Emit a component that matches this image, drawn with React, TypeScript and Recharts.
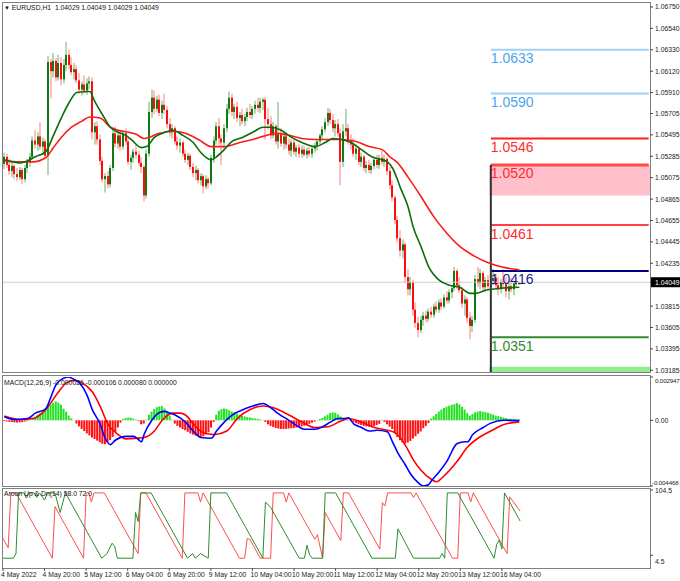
import React from "react";
import {
  ComposedChart,
  Bar,
  Line,
  XAxis,
  YAxis,
  Cell,
  ReferenceLine,
  ReferenceArea,
  ReferenceDot,
} from "recharts";

// EURUSD H1, prices in pips above 1.0000 (528 -> 1.0528)
const opens = [
  521, 528, 520, 514, 519, 511, 508, 515, 506, 517,
  523, 528, 544, 540, 548, 538, 543, 529, 621, 612,
  622, 606, 620, 604, 618, 628, 618, 611, 614, 603,
  594, 599, 593, 600, 602, 552, 558, 545, 524, 506,
  509, 501, 517, 551, 541, 549, 538, 551, 543, 523,
  527, 533, 530, 522, 518, 490, 531, 572, 586, 575,
  584, 571, 579, 574, 560, 552, 556, 543, 539, 542,
  531, 525, 529, 518, 512, 515, 505, 509, 499, 506,
  502, 527, 544, 558, 546, 542, 556, 575, 586, 572,
  577, 566, 569, 563, 567, 572, 569, 575, 579, 576,
  582, 584, 565, 560, 549, 558, 543, 550, 541, 548,
  540, 534, 542, 533, 537, 531, 535, 530, 534, 531,
  536, 539, 543, 549, 555, 562, 571, 564, 556, 560,
  551, 523, 553, 556, 544, 540, 531, 536, 523, 528,
  517, 520, 515, 519, 525, 520, 527, 523, 526, 514,
  500, 488, 466, 448, 436, 442, 410, 398, 405, 378,
  365, 358, 368, 372, 369, 376, 373, 381, 378, 385,
  381, 390, 387, 395, 399, 416, 402, 397, 384, 388,
  370, 362, 368, 408, 404, 414, 400, 407, 401, 406,
  409, 402, 398, 405, 403, 396, 401, 398, 404, 402.9,
];
const highs = [
  532, 531, 526, 523, 521, 517, 518, 517, 520, 526,
  532, 548, 554, 552, 562, 547, 545, 627, 624, 630,
  625, 628, 626, 624, 641, 633, 626, 620, 618, 610,
  602, 608, 605, 607, 606, 562, 563, 550, 528, 512,
  514, 520, 556, 558, 553, 552, 554, 556, 546, 530,
  536, 540, 534, 528, 520, 535, 582, 594, 593, 588,
  589, 583, 590, 578, 566, 560, 558, 548, 546, 544,
  535, 532, 531, 522, 519, 517, 512, 511, 510, 508,
  530, 548, 562, 566, 550, 560, 580, 592, 590, 580,
  582, 572, 575, 570, 576, 580, 578, 583, 586, 586,
  586, 586, 576, 568, 562, 560, 582, 556, 552, 552,
  546, 545, 546, 540, 541, 539, 539, 537, 538, 538,
  542, 545, 551, 558, 566, 576, 575, 570, 564, 565,
  556, 560, 575, 560, 550, 546, 540, 538, 532, 530,
  524, 525, 522, 528, 530, 530, 534, 530, 528, 518,
  505, 490, 470, 456, 447, 444, 418, 410, 407, 385,
  371, 372, 376, 377, 379, 381, 384, 386, 388, 389,
  393, 396, 398, 402, 420, 418, 410, 400, 392, 390,
  376, 372, 412, 420, 418, 416, 410, 412, 411, 418,
  413, 410, 408, 418, 410, 406, 409, 406, 410, 404.9,
];
const lows = [
  516, 517, 510, 508, 506, 504, 505, 501, 503, 512,
  518, 525, 536, 534, 535, 530, 526, 510, 585, 606,
  602, 603, 598, 600, 612, 614, 608, 604, 600, 590,
  588, 590, 589, 594, 545, 540, 540, 520, 503, 493,
  497, 498, 514, 537, 536, 534, 535, 540, 520, 515,
  522, 526, 519, 512, 484, 487, 528, 566, 570, 572,
  568, 565, 570, 556, 548, 546, 540, 535, 532, 528,
  522, 520, 515, 508, 505, 502, 500, 492, 496, 497,
  500, 522, 540, 540, 520, 536, 552, 570, 568, 565,
  562, 558, 560, 558, 563, 566, 565, 570, 572, 571,
  574, 545, 555, 545, 546, 540, 536, 538, 535, 536,
  530, 528, 530, 528, 527, 527, 528, 526, 528, 527,
  532, 534, 540, 545, 552, 558, 560, 552, 548, 548,
  500, 518, 548, 540, 535, 528, 525, 520, 518, 514,
  512, 512, 511, 516, 517, 516, 520, 518, 510, 496,
  484, 462, 444, 430, 428, 404, 392, 392, 372, 360,
  351, 355, 362, 365, 366, 370, 370, 375, 375, 378,
  379, 384, 384, 389, 396, 398, 394, 380, 372, 365,
  349, 356, 365, 400, 398, 396, 395, 397, 396, 402,
  398, 392, 394, 399, 390, 388, 395, 392, 399, 402.9,
];
const closes = [
  528, 520, 514, 519, 511, 508, 515, 506, 517, 523,
  528, 544, 540, 548, 538, 543, 529, 621, 612, 622,
  606, 620, 604, 618, 628, 618, 611, 614, 603, 594,
  599, 593, 600, 602, 552, 558, 545, 524, 506, 509,
  501, 517, 551, 541, 549, 538, 551, 543, 523, 527,
  533, 530, 522, 518, 490, 531, 572, 586, 575, 584,
  571, 579, 574, 560, 552, 556, 543, 539, 542, 531,
  525, 529, 518, 512, 515, 505, 509, 499, 506, 502,
  527, 544, 558, 546, 542, 556, 575, 586, 572, 577,
  566, 569, 563, 567, 572, 569, 575, 579, 576, 582,
  584, 565, 560, 549, 558, 543, 550, 541, 548, 540,
  534, 542, 533, 537, 531, 535, 530, 534, 531, 536,
  539, 543, 549, 555, 562, 571, 564, 556, 560, 551,
  523, 553, 556, 544, 540, 531, 536, 523, 528, 517,
  520, 515, 519, 525, 520, 527, 523, 526, 514, 500,
  488, 466, 448, 436, 442, 410, 398, 405, 378, 365,
  358, 368, 372, 369, 376, 373, 381, 378, 385, 381,
  390, 387, 395, 399, 416, 402, 397, 384, 388, 370,
  362, 368, 408, 404, 414, 400, 407, 401, 406, 409,
  402, 398, 405, 403, 396, 401, 398, 404, 402.9, 404.9,
];

// moving averages as [bar, pips]
const maFastPts = [
  [0, 525], [6, 522], [12, 528], [16, 533], [19, 549], [22, 566], [25, 581], [28, 591],
  [33, 592], [35, 582], [38, 569], [41, 557], [44, 552], [47, 549], [49, 545], [53, 537],
  [55, 538], [58, 547], [62, 552], [65, 554], [69, 549], [73, 542], [76, 532], [80, 525],
  [82, 528], [85, 535], [88, 543], [92, 547], [96, 552], [100, 557], [103, 557], [107, 554],
  [111, 547], [115, 542], [120, 538], [124, 542], [127, 546], [130, 545], [134, 542], [138, 535],
  [142, 528], [146, 525], [148, 523], [150, 517], [152, 505], [153, 498], [156, 479], [158, 459],
  [161, 440], [164, 420], [168, 407], [172, 402], [176, 400], [180, 394], [182, 394], [186, 397],
  [192, 399], [199, 400],
];
const maSlowPts = [
  [0, 524], [6, 523], [11, 523], [16, 527], [19, 537], [22, 547], [26, 557], [30, 563],
  [33, 567], [37, 566], [41, 557], [44, 554], [48, 552], [51, 550], [54, 546], [60, 551],
  [65, 553], [70, 551], [75, 545], [80, 538], [85, 538], [91, 542], [96, 545], [100, 548],
  [105, 551], [110, 549], [115, 546], [120, 545], [125, 545], [130, 545], [136, 543], [141, 538],
  [146, 535], [149, 528], [152, 522], [156, 508], [161, 489], [166, 469], [171, 453], [176, 440],
  [182, 430], [187, 424], [192, 420], [199, 417],
];

// MACD(12,26,9), units of 0.00001
const macdPts = [
  [0, 24], [4, 5], [9, 12], [12, 49], [16, 78], [18, 158], [20, 243], [23, 287], [25, 294.7],
  [26, 287], [29, 255], [32, 170], [34, 73], [37, -24], [39, -122], [41, -165], [43, -134],
  [47, -109], [50, -109], [52, -134], [53, -146], [54, -97], [57, 0], [60, 53], [62, 61],
  [64, 49], [66, 36], [70, -12], [73, -73], [76, -117], [80, -122], [82, -73], [85, -12],
  [88, 36], [93, 78], [96, 97], [100, 114], [103, 85], [106, 44], [110, 0], [113, -36],
  [116, -61], [120, -61], [123, -44], [126, -12], [129, 12], [131, 12], [133, 17], [135, -24],
  [138, -49], [141, -73], [144, -68], [148, -78], [150, -146], [152, -219], [155, -304],
  [157, -365], [160, -425], [162, -446.8], [164, -437], [165, -413], [168, -352], [171, -279],
  [175, -158], [178, -146], [179, -146], [181, -97], [185, -49], [188, -19], [193, 0], [199, -2.6],
];
const signalPts = [
  [0, 29], [6, 5], [11, 12], [16, 73], [21, 194], [24, 255], [27, 272], [30, 255], [34, 194],
  [37, 97], [40, -24], [44, -97], [47, -126], [51, -122], [54, -117], [58, -73], [61, 0],
  [65, 49], [68, 49], [70, 36], [73, -24], [77, -85], [81, -97], [86, -73], [90, 12], [95, 73],
  [100, 97], [104, 85], [110, 36], [115, -12], [120, -49], [125, -44], [130, -5], [133, 12],
  [138, -12], [143, -49], [148, -68], [151, -85], [155, -170], [158, -267], [161, -340],
  [165, -401], [167, -418], [170, -377], [175, -279], [179, -182], [183, -122], [188, -73],
  [193, -29], [199, -10.6],
];
const histVals = [
  -5, -8, -10, -12, -14, -15, -14, -12, -8, -4,
  5, 16, 24, 38, 49, 65, 78, 92, 108, 119,
  129, 121, 106, 78, 59, 32, 13, 2, -22, -41,
  -59, -73, -89, -103, -117, -127, -138, -149, -160, -163,
  -151, -135, -113, -81, -49, -16, 9, 15, 19, 17,
  11, 4, -5, -27, -22, 5, 38, 59, 76, 89,
  95, 97, 81, 59, 32, 5, -22, -38, -49, -59,
  -67, -78, -89, -97, -104, -108, -113, -108, -97, -81,
  -49, -11, 38, 65, 76, 80, 78, 67, 59, 54,
  45, 38, 30, 27, 22, 19, 16, 13, 11, 6,
  2, -11, -27, -38, -45, -52, -56, -59, -59, -58,
  -56, -54, -52, -49, -45, -41, -37, -30, -24, -16,
  -9, -2, 9, 16, 27, 38, 49, 54, 52, 41,
  27, 13, 5, 3, -5, -13, -19, -27, -32, -38,
  -41, -43, -41, -39, -32, -24, 4, -11, -27, -43,
  -59, -86, -113, -135, -151, -158, -151, -140, -124, -108,
  -92, -76, -54, -38, -19, 11, 27, 43, 59, 73,
  84, 93, 99, 106, 110, 117, 108, 92, 73, 49,
  32, 43, 54, 59, 63, 59, 56, 52, 45, 39,
  32, 28, 24, 19, 15, 11, 10, 9, 8, 8,
];

// Aroon turning points [bar, value]
const aroonUpPts = [
  [0, 0], [4, 0], [5, 7], [6, 100], [8, 100], [9, 92], [10, 100], [12, 100], [13, 93], [14, 100],
  [16, 89], [17, 100], [20, 100], [22, 70], [24, 100], [38, 0], [40, 7], [42, 23], [43, 18],
  [44, 0], [50, 0], [51, 70], [52, 56], [53, 100], [57, 100], [71, 0], [73, 7], [74, 0], [76, 7],
  [79, 0], [80, 100], [86, 100], [100, 0], [101, 86], [103, 78], [114, 0], [116, 0], [117, 20],
  [118, 5], [119, 0], [123, 0], [124, 100], [128, 100], [142, 0], [151, 0], [152, 45], [158, 0],
  [168, 0], [169, 7], [170, 0], [171, 100], [175, 100], [189, 0], [190, 21], [191, 28],
  [192, 14], [193, 100], [199, 57],
];
const aroonDnPts = [
  [0, 30], [2, 16], [3, 100], [5, 100], [19, 0], [20, 79], [31, 0], [32, 100], [33, 100],
  [34, 86], [35, 100], [39, 100], [52, 7], [53, 100], [55, 100], [69, 0], [70, 100], [75, 100],
  [76, 86], [77, 100], [91, 0], [93, 0], [94, 30], [95, 29], [99, 0], [103, 0], [104, 100],
  [108, 100], [109, 86], [110, 100], [120, 29], [121, 36], [123, 0], [124, 70], [130, 27],
  [131, 100], [133, 100], [145, 14], [146, 85], [147, 80], [148, 100], [157, 100], [158, 93],
  [159, 100], [173, 0], [175, 0], [176, 100], [179, 100], [180, 86], [181, 100], [194, 7],
  [195, 94], [199, 72],
];

const timeLabels = [
  "4 May 2022", "4 May 20:00", "5 May 12:00", "6 May 04:00", "6 May 20:00", "9 May 12:00",
  "10 May 04:00", "10 May 20:00", "11 May 12:00", "12 May 04:00", "12 May 20:00",
  "13 May 12:00", "16 May 04:00",
];
const priceTicks = [
  1.0675, 1.0654, 1.0633, 1.0612, 1.0591, 1.05705, 1.05495, 1.05285, 1.05075, 1.04865,
  1.04655, 1.04445, 1.04235, 1.03815, 1.03605, 1.03395, 1.03185,
];
const currentPrice = 1.04049;
const levels = [1.0633, 1.059, 1.0546, 1.052, 1.0461, 1.0416, 1.0351];
const levelLabels = ["1.0633", "1.0590", "1.0546", "1.0520", "1.0461", "1.0416", "1.0351"];
const pinkZone = [1.049, 1.052];
const greenZone = [1.03168, 1.0322];
const macdTicks = [0.002947, 0, -0.004468];
const macdTickLabels = ["0.002947", "0.00", "-0.004468"];
const aroonTicks = [104.5, 4.5];

const levelLine = ["#9fd0f7", "#9fd0f7", "#ff2020", "#ff4848", "#ff4040", "#000080", "#2e8b2e"];
const levelText = ["#4da3ef", "#4da3ef", "#ff2b2b", "#ff2b2b", "#ff2b2b", "#1b1b8f", "#2e8b2e"];
const levelWidth = [2, 2, 2, 3, 2, 2, 2];

const FONT = "Liberation Sans, Arial, sans-serif";
const SLOTS = 250;
const LEVEL_START = 188;
const pip = (v: number) => 1 + v / 10000;

const rows: any[] = Array.from({ length: SLOTS }, (_, slot) => ({ slot }));
closes.forEach((c, i) => {
  Object.assign(rows[i], {
    o: pip(opens[i]),
    h: pip(highs[i]),
    l: pip(lows[i]),
    c: pip(c),
    hist: histVals[i] / 1e5,
  });
});
maFastPts.forEach(([i, v]) => (rows[i].maFast = pip(v)));
maSlowPts.forEach(([i, v]) => (rows[i].maSlow = pip(v)));
macdPts.forEach(([i, v]) => (rows[i].macd = v / 1e5));
signalPts.forEach(([i, v]) => (rows[i].signal = v / 1e5));
aroonUpPts.forEach(([i, v]) => (rows[i].up = v));
aroonDnPts.forEach(([i, v]) => (rows[i].dn = v));

const candleRange = (d: any) => (d.h == null ? null : [d.l, d.h]);

const Candle = (props: any) => {
  const { x, y, width, height, payload } = props;
  if (!payload || payload.h == null || y == null) return <g />;
  const top = Math.min(y, y + height);
  const hgt = Math.abs(height);
  const { o, h, l, c } = payload;
  const span = h - l || 1e-9;
  const yOf = (v: number) => top + ((h - v) / span) * hgt;
  const cx = Math.round(x + width / 2);
  const up = c >= o;
  const bTop = yOf(Math.max(o, c));
  const bBot = yOf(Math.min(o, c));
  return (
    <g>
      <rect x={cx - 0.5} y={top} width={1} height={Math.max(1, hgt)} fill={up ? "#6fb06f" : "#ff8080"} />
      <rect x={cx - 1} y={bTop} width={2} height={Math.max(1, bBot - bTop)} fill={up ? "#0f7a0f" : "#ff0d0d"} />
    </g>
  );
};

const PriceTick = (props: any) => {
  const { x, y, payload } = props;
  const v = payload.value;
  const cur = v === currentPrice;
  return (
    <g>
      {cur && <rect x={x - 4} y={y - 5} width={34} height={10} fill="#000" />}
      <text x={x} y={y} dy={2.5} fontSize={6.8} fontFamily={FONT} fill={cur ? "#fff" : "#222"} textAnchor="start">
        {v.toFixed(5)}
      </text>
    </g>
  );
};

// MT4 keeps the min/max captions inside the sub-window
const MacdTick = (props: any) => {
  const { x, y, payload } = props;
  const i = macdTicks.indexOf(payload.value);
  const shift = i === 0 ? 3 : i === 2 ? -4 : 0;
  const dx = i === 2 ? -3 : 0;
  return (
    <text
      x={x + dx}
      y={y + shift}
      dy={2.5}
      fontSize={i === 1 ? 6.8 : 6.2}
      letterSpacing={i === 1 ? 0 : -0.15}
      fontFamily={FONT}
      fill="#222"
      textAnchor="start"
    >
      {macdTickLabels[i]}
    </text>
  );
};

const AroonTick = (props: any) => {
  const { x, y, payload } = props;
  const shift = payload.value === aroonTicks[1] ? 6 : 1;
  return (
    <text x={x} y={y + shift} dy={2.5} fontSize={6.8} fontFamily={FONT} fill="#222" textAnchor="start">
      {payload.value}
    </text>
  );
};

const TimeTick = (props: any) => {
  const { x, y, payload } = props;
  const i = payload.value;
  if (i % 16 !== 0 || i / 16 >= timeLabels.length) return <g />;
  return (
    <g>
      <line x1={x} x2={x} y1={y - 2} y2={y + 1} stroke="#555" />
      <text x={x - 2} y={y + 7} fontSize={6.8} fontFamily={FONT} fill="#222">
        {timeLabels[i / 16]}
      </text>
    </g>
  );
};

const levelLabel = (text: string, color: string) => (p: any) => (
  <text x={p.cx} y={p.cy + 13.5} fontSize={14} fontFamily={FONT} fill={color}>
    {text}
  </text>
);

const frame = (top: number, height: number): React.CSSProperties => ({
  position: "absolute",
  left: 2,
  top,
  width: 649,
  height,
  boxSizing: "border-box",
  border: "1px solid #808080",
});

const small: React.CSSProperties = {
  position: "absolute",
  fontFamily: FONT,
  fontSize: 6.8,
  color: "#111",
  whiteSpace: "nowrap",
  lineHeight: 1,
};

export default function App() {
  return (
    <div style={{ position: "absolute", left: 0, top: 0, width: 680, height: 581, background: "#fff", overflow: "hidden" }}>
      <div style={frame(2, 371)} />
      <div style={frame(375, 112)} />
      <div style={frame(488, 81)} />

      <div style={{ position: "absolute", left: 0, top: 0 }}>
        <ComposedChart width={680} height={376} data={rows} margin={{ top: 3, right: 0, bottom: 4, left: 3 }}>
          <XAxis dataKey="slot" type="category" hide />
          <YAxis
            orientation="right"
            width={30}
            domain={[1.03168, 1.06789]}
            allowDataOverflow
            ticks={[...priceTicks, currentPrice]}
            interval={0}
            tick={<PriceTick />}
            tickSize={3}
            tickMargin={2}
            tickLine={{ stroke: "#444" }}
            axisLine={false}
          />
          <ReferenceArea x1={LEVEL_START} x2={SLOTS - 1} y1={pinkZone[0]} y2={pinkZone[1]} fill="#ffc0cb" fillOpacity={1} stroke="none" />
          <ReferenceArea x1={LEVEL_START} x2={SLOTS - 1} y1={greenZone[0]} y2={greenZone[1]} fill="#90ee90" fillOpacity={1} stroke="none" />
          <ReferenceLine y={currentPrice} stroke="#cfcfcf" strokeWidth={1} />
          {levels.map((v, k) => (
            <ReferenceLine
              key={"lv" + k}
              segment={[{ x: LEVEL_START, y: v }, { x: SLOTS - 1, y: v }]}
              stroke={levelLine[k]}
              strokeWidth={levelWidth[k]}
            />
          ))}
          <ReferenceLine
            segment={[{ x: LEVEL_START, y: levels[3] }, { x: LEVEL_START, y: 1.03168 }]}
            stroke="#333"
            strokeWidth={2}
          />
          <Bar dataKey={candleRange} shape={Candle} barSize={2} isAnimationActive={false} />
          <Line dataKey="maSlow" type="monotone" stroke="#ff1a1a" strokeWidth={1.6} dot={false} connectNulls isAnimationActive={false} />
          <Line dataKey="maFast" type="monotone" stroke="#0a6e0a" strokeWidth={1.6} dot={false} connectNulls isAnimationActive={false} />
          {levels.map((v, k) => (
            <ReferenceDot
              key={"lb" + k}
              x={LEVEL_START}
              y={v}
              r={0}
              shape={levelLabel(levelLabels[k], levelText[k])}
            />
          ))}
        </ComposedChart>
      </div>

      <div style={{ position: "absolute", left: 0, top: 376 }}>
        <ComposedChart width={680} height={111} data={rows} margin={{ top: 1, right: 0, bottom: 1, left: 3 }}>
          <XAxis dataKey="slot" type="category" hide />
          <YAxis
            orientation="right"
            width={30}
            domain={[-0.004468, 0.002947]}
            allowDataOverflow
            ticks={macdTicks}
            interval={0}
            tick={<MacdTick />}
            tickSize={3}
            tickMargin={2}
            tickLine={{ stroke: "#444" }}
            axisLine={false}
          />
          <Bar dataKey="hist" barSize={2} isAnimationActive={false}>
            {rows.map((r, i) => (
              <Cell key={i} fill={(r.hist ?? 0) >= 0 ? "#22e022" : "#ff1010"} />
            ))}
          </Bar>
          <Line dataKey="signal" type="monotone" stroke="#ff0000" strokeWidth={1.6} dot={false} connectNulls isAnimationActive={false} />
          <Line dataKey="macd" type="monotone" stroke="#0000ff" strokeWidth={1.6} dot={false} connectNulls isAnimationActive={false} />
        </ComposedChart>
      </div>

      <div style={{ position: "absolute", left: 0, top: 488 }}>
        <ComposedChart width={680} height={93} data={rows} margin={{ top: 1, right: 0, bottom: 0, left: 3 }}>
          <XAxis
            dataKey="slot"
            type="category"
            height={13}
            interval={0}
            tick={<TimeTick />}
            tickLine={false}
            axisLine={false}
            tickSize={2}
            tickMargin={0}
          />
          <YAxis
            orientation="right"
            width={30}
            domain={[-15, 106]}
            allowDataOverflow
            ticks={aroonTicks}
            interval={0}
            tick={<AroonTick />}
            tickSize={3}
            tickMargin={2}
            tickLine={{ stroke: "#444" }}
            axisLine={false}
          />
          <Line dataKey="dn" type="linear" stroke="#ff4d4d" strokeWidth={1} dot={false} connectNulls isAnimationActive={false} />
          <Line dataKey="up" type="linear" stroke="#2e8b2e" strokeWidth={1} dot={false} connectNulls isAnimationActive={false} />
        </ComposedChart>
      </div>

      <div style={{ ...small, left: 4, top: 5 }}>
        <span style={{ fontSize: 6 }}>▼</span> EURUSD,H1&nbsp; 1.04029 1.04049 1.04029 1.04049
      </div>
      <div style={{ ...small, left: 4, top: 380 }}>MACD(12,26,9) -0.000026 -0.000106 0.000080 0.000000</div>
      <div style={{ ...small, left: 4, top: 491 }}>Aroon Up &amp; Dn(14) 58.0 72.0</div>
    </div>
  );
}
